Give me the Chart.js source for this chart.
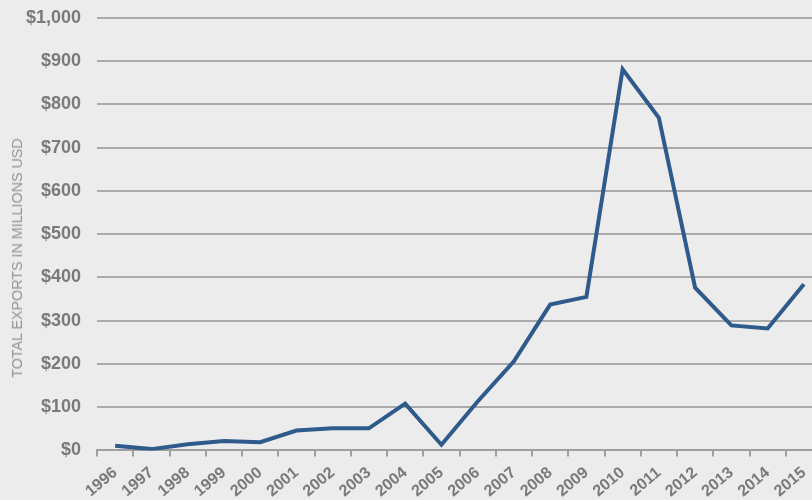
<!DOCTYPE html>
<html>
<head>
<meta charset="utf-8">
<script src="https://cdn.jsdelivr.net/npm/chart.js@4"></script>
<style>
  html, body { margin: 0; padding: 0; width: 812px; height: 500px; overflow: hidden; background: #ececec; }
  #c { position: absolute; left: 0; top: -9px; }
  #ytitle { position: absolute; left: 17px; top: 258px; transform: translate(-50%, -50%) rotate(-90deg);
    font-family: "Liberation Sans", Arial, sans-serif; font-size: 14.3px; color: #959595; white-space: nowrap; }
</style>
</head>
<body>
<canvas id="c" width="825" height="517" style="width:825px;height:517px"></canvas>
<div id="ytitle">TOTAL EXPORTS IN MILLIONS USD</div>
<script>
const years = ["1996","1997","1998","1999","2000","2001","2002","2003","2004","2005",
               "2006","2007","2008","2009","2010","2011","2012","2013","2014","2015"];
const exportsUSD = [11, 3, 14, 22, 19, 46, 51, 51, 108, 13, 113, 206, 337, 355, 881, 769, 376, 289, 282, 384];
const yTickMin = 0, yTickMax = 1000, yTickStep = 100;

new Chart(document.getElementById('c'), {
  type: 'line',
  data: {
    labels: years,
    datasets: [{
      data: exportsUSD,
      borderColor: '#2e5a8c',
      borderWidth: 4,
      pointRadius: 0,
      tension: 0,
      fill: false
    }]
  },
  options: {
    responsive: false,
    animation: false,
    devicePixelRatio: 1,
    layout: { padding: { top: 0, left: 10, right: 3, bottom: 0 } },
    plugins: { legend: { display: false }, tooltip: { enabled: false } },
    scales: {
      x: {
        offset: true,
        grid: { offset: true, drawOnChartArea: false, drawTicks: true, tickLength: 6, color: '#a0a0a0', lineWidth: 2 },
        border: { display: true, color: '#a0a0a0', width: 2 },
        ticks: {
          autoSkip: false,
          minRotation: 40, maxRotation: 40, padding: 7,
          color: '#7a7a7a',
          font: { family: '"Liberation Sans", Arial, sans-serif', size: 16, weight: 'bold' }
        }
      },
      y: {
        min: yTickMin, max: yTickMax,
        grid: { drawTicks: false, color: '#aaaaaa', lineWidth: 2 },
        border: { display: false },
        ticks: {
          stepSize: yTickStep, padding: 16,
          color: '#7a7a7a',
          font: { family: '"Liberation Sans", Arial, sans-serif', size: 18, weight: 'bold' },
          callback: v => '$' + v.toLocaleString('en-US')
        }
      }
    }
  }
});
</script>
</body>
</html>
